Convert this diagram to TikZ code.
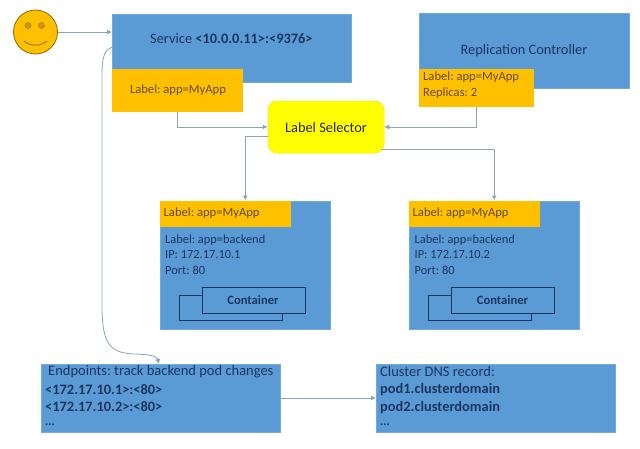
\documentclass[tikz,border=0pt]{standalone}
\usepackage{fontspec}
\setmainfont{Carlito}
\frenchspacing
\usetikzlibrary{arrows.meta,calc}
\definecolor{boxblue}{HTML}{5B9BD5}
\definecolor{labelorange}{HTML}{FFC000}
\definecolor{selyellow}{HTML}{FFFF00}
\definecolor{inkblue}{HTML}{1B3560}
\definecolor{inkbrown}{HTML}{6B4A10}
\definecolor{linegrey}{HTML}{8FA3B3}
\tikzset{
  block/.style={fill=boxblue, draw=boxblue!85!white, line width=.5pt, inner sep=0pt, anchor=north west},
  tag/.style={fill=labelorange, inner sep=0pt, anchor=north west},
  ctr/.style={fill=boxblue, draw=inkblue, line width=1pt, inner sep=0pt, anchor=north west, minimum width=103pt, minimum height=25.5pt},
  conn/.style={draw=linegrey, line width=1pt, -{Latex[length=5pt,width=5pt]}},
  bluetext/.style={text=inkblue, inner sep=0pt, align=left, font=\fontsize{12.4}{15.6}\selectfont},
  bigtext/.style={text=inkblue, inner sep=0pt, align=left, font=\fontsize{14.4}{16}\selectfont},
  tagtext/.style={text=inkbrown, inner sep=0pt, align=left, font=\fontsize{12.6}{15.6}\selectfont},
  listtitle/.style={text=inkblue, inner sep=0pt, anchor=west, font=\fontsize{14.5}{16}\selectfont},
  listtext/.style={text=inkblue, inner sep=0pt, anchor=west, font=\fontsize{14.4}{16}\selectfont\bfseries},
}
\begin{document}
\begin{tikzpicture}[x=1pt,y=-1pt]
\useasboundingbox (0,0) rectangle (640,448);
\fill[white] (0,0) rectangle (640,448);
% smiley
\node[circle, fill=labelorange, draw=black!45!labelorange, line width=.8pt, minimum size=44pt, inner sep=0pt] (face) at (35.5,32) {};
\fill[black!20!labelorange, draw=black!35!labelorange, line width=.5pt] (28,25.5) circle (3pt) (41.5,25.5) circle (3pt);
\draw[black!40!labelorange, line width=.9pt] (24,41) .. controls (30,46.5) and (41,46.5) .. (47,41);
% service
\node[block, minimum width=239pt, minimum height=68pt] (svc) at (112,13.5) {};
\node[tag, minimum width=131pt, minimum height=43.5pt] (svclabel) at (112,68.5) {};
\node[bigtext, anchor=west] (svctext) at (150,38.5) {Service \textbf{<10.0.0.11>:<9376>}};
\node[tagtext] (svclabeltext) at (178,90.5) {Label: app=MyApp};
% replication controller
\node[block, minimum width=210.5pt, minimum height=75pt] (rc) at (418.5,13) {};
\node[tag, minimum width=115.5pt, minimum height=38.5pt] (rclabel) at (418.5,68.5) {};
\node[bigtext] (rctext) at (524,51) {Replication Controller};
\node[tagtext, anchor=north west] (rclabeltext) at (423,72) {Label: app=MyApp\\Replicas: 2};
% selector
\node[fill=selyellow, draw=labelorange!45!selyellow, line width=.5pt, rounded corners=9pt, minimum width=116pt, minimum height=52pt, inner sep=0pt] (selector) at (326,127) {};
\node[text=black!85, inner sep=0pt, font=\fontsize{14.4}{16}\selectfont] (seltext) at (326,127.5) {Label Selector};
% pod 1
\node[block, minimum width=170pt, minimum height=128pt] (pod1) at (160,200.5) {};
\node[tag, minimum width=131pt, minimum height=26pt] (pod1label) at (160,200.5) {};
\node[tagtext, anchor=west] (pod1labeltext) at (163.5,213.5) {Label: app=MyApp};
\node[bluetext, anchor=north west] (pod1text) at (165,234.5) {Label: app=backend\\IP: 172.17.10.1\\Port: 80};
\node[ctr] (ctr1b) at (178.5,294.5) {};
\node[ctr] (ctr1f) at (201.5,287) {};
\node[bluetext, font=\fontsize{12.6}{14}\selectfont\bfseries] (ctr1text) at (253,300) {Container};
% pod 2
\node[block, minimum width=170pt, minimum height=128pt] (pod2) at (409,200.5) {};
\node[tag, minimum width=131pt, minimum height=26pt] (pod2label) at (409,200.5) {};
\node[tagtext, anchor=west] (pod2labeltext) at (412.5,213) {Label: app=MyApp};
\node[bluetext, anchor=north west] (pod2text) at (414.5,234.5) {Label: app=backend\\IP: 172.17.10.2\\Port: 80};
\node[ctr] (ctr2b) at (428,294.5) {};
\node[ctr] (ctr2f) at (451,287) {};
\node[bluetext, font=\fontsize{12.6}{14}\selectfont\bfseries] (ctr2text) at (502.5,300) {Container};
% endpoints
\node[block, minimum width=238.5pt, minimum height=67.5pt] (ep) at (41,364) {};
\node[listtitle] (eptitle) at (48,371.5) {Endpoints: track backend pod changes};
\node[listtext] (ep1) at (45,389.5) {<172.17.10.1>:<80>};
\node[listtext] (ep2) at (45,407) {<172.17.10.2>:<80>};
\node[listtext, font=\fontsize{12}{16}\selectfont\bfseries] (ep3) at (45,425) {...};
% dns
\node[block, minimum width=239pt, minimum height=67.5pt] (dns) at (376,364) {};
\node[listtitle] (dnstitle) at (380,371.5) {Cluster DNS record:};
\node[listtext] (dns1) at (380,390) {pod1.clusterdomain};
\node[listtext] (dns2) at (380,407.5) {pod2.clusterdomain};
\node[listtext, font=\fontsize{12}{16}\selectfont\bfseries] (dns3) at (380,425) {...};
% connectors
\draw[conn] (face.east) -- (face.east -| svc.west);
\draw[conn] (svclabel.south) |- (selector.west);
\draw[conn] (rclabel.south) |- (selector.east);
\draw[conn] ($(selector.west)+(0,9)$) -| (pod1.north);
\draw[conn] ($(selector.east)+(-3,22.5)$) -| (pod2.north);
\draw[conn] (ep.east) -- (dns.west);
\coordinate (svcout) at ($(svc.west)+(0,-0.5)$);
\coordinate (eptop) at (159,364);
\draw[draw=linegrey, line width=.8pt, -{Latex[length=5pt,width=5pt]}] (svcout) .. controls (105,49) and (102,56) .. (102,75) -- (102,305) .. controls (102,345) and (110,353) .. (135,354) .. controls (150,354.5) and (157,356) .. (eptop);
\end{tikzpicture}
\end{document}
